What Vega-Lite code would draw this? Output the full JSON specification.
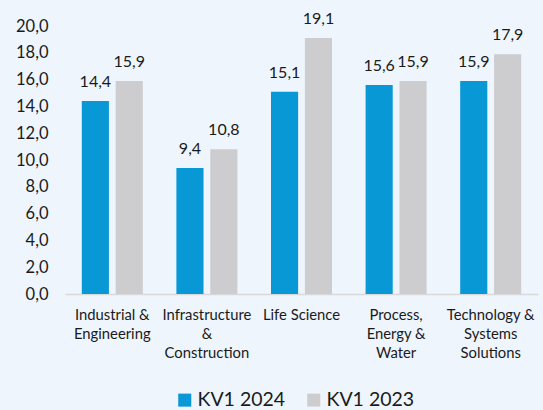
{
  "$schema": "https://vega.github.io/schema/vega-lite/v6.json",
  "width": 473,
  "height": 268,
  "autosize": {"type": "none"},
  "padding": {"left": 65, "top": 26, "right": 5, "bottom": 116},
  "background": "#eef5fd",
  "config": {
    "view": {"stroke": null},
    "locale": {"number": {"decimal": ",", "thousands": ".", "grouping": [3], "currency": ["", " €"]}},
    "font": "Lato"
  },
  "data": {
    "values": [
      {"category": "Industrial & Engineering", "series": "KV1 2024", "value": 14.4},
      {"category": "Industrial & Engineering", "series": "KV1 2023", "value": 15.9},
      {"category": "Infrastructure & Construction", "series": "KV1 2024", "value": 9.4},
      {"category": "Infrastructure & Construction", "series": "KV1 2023", "value": 10.8},
      {"category": "Life Science", "series": "KV1 2024", "value": 15.1},
      {"category": "Life Science", "series": "KV1 2023", "value": 19.1},
      {"category": "Process, Energy & Water", "series": "KV1 2024", "value": 15.6},
      {"category": "Process, Energy & Water", "series": "KV1 2023", "value": 15.9},
      {"category": "Technology & Systems Solutions", "series": "KV1 2024", "value": 15.9},
      {"category": "Technology & Systems Solutions", "series": "KV1 2023", "value": 17.9}
    ]
  },
  "encoding": {
    "x": {
      "field": "category",
      "type": "nominal",
      "sort": null,
      "scale": {"paddingInner": 0.355, "paddingOuter": 0.1775},
      "axis": {
        "title": null,
        "labelAngle": 0,
        "ticks": false,
        "domainColor": "#d9d9d9",
        "domainWidth": 1.5,
        "labelFontSize": 14.8,
        "labelColor": "#1a1a1a",
        "labelPadding": 13,
        "labelLineHeight": 19,
        "labelBaseline": "top",
        "labelOverlap": false,
        "labelExpr": "datum.value == 'Industrial & Engineering' ? ['Industrial &', 'Engineering'] : datum.value == 'Infrastructure & Construction' ? ['Infrastructure', '&', 'Construction'] : datum.value == 'Process, Energy & Water' ? ['Process,', 'Energy &', 'Water'] : datum.value == 'Technology & Systems Solutions' ? ['Technology &', 'Systems', 'Solutions'] : datum.value"
      }
    },
    "xOffset": {"field": "series", "type": "nominal", "sort": ["KV1 2024", "KV1 2023"], "scale": {"paddingInner": 0.2}},
    "y": {
      "field": "value",
      "type": "quantitative",
      "scale": {"domain": [0, 20]},
      "axis": {
        "title": null,
        "grid": false,
        "domain": false,
        "ticks": false,
        "values": [0, 2, 4, 6, 8, 10, 12, 14, 16, 18, 20],
        "format": ".1f",
        "labelOverlap": false,
        "labelFontSize": 16.5,
        "labelColor": "#1a1a1a",
        "labelPadding": 17
      }
    }
  },
  "layer": [
    {
      "mark": {"type": "bar"},
      "encoding": {
        "color": {
          "field": "series",
          "type": "nominal",
          "sort": ["KV1 2024", "KV1 2023"],
          "scale": {"domain": ["KV1 2024", "KV1 2023"], "range": ["#0898d6", "#cdcdd0"]},
          "legend": {
            "title": null,
            "orient": "none",
            "direction": "horizontal",
            "legendX": 110,
            "legendY": 364,
            "symbolType": "square",
            "symbolSize": 170,
            "symbolStrokeWidth": 0,
            "labelFontSize": 19.5,
            "labelColor": "#1a1a1a",
            "labelOffset": 3,
            "columnPadding": 18
          }
        }
      }
    },
    {
      "mark": {"type": "text", "baseline": "bottom", "dy": -11, "fontSize": 16, "color": "#1a1a1a"},
      "encoding": {
        "text": {"field": "value", "type": "quantitative", "format": ".1f"}
      }
    }
  ]
}
